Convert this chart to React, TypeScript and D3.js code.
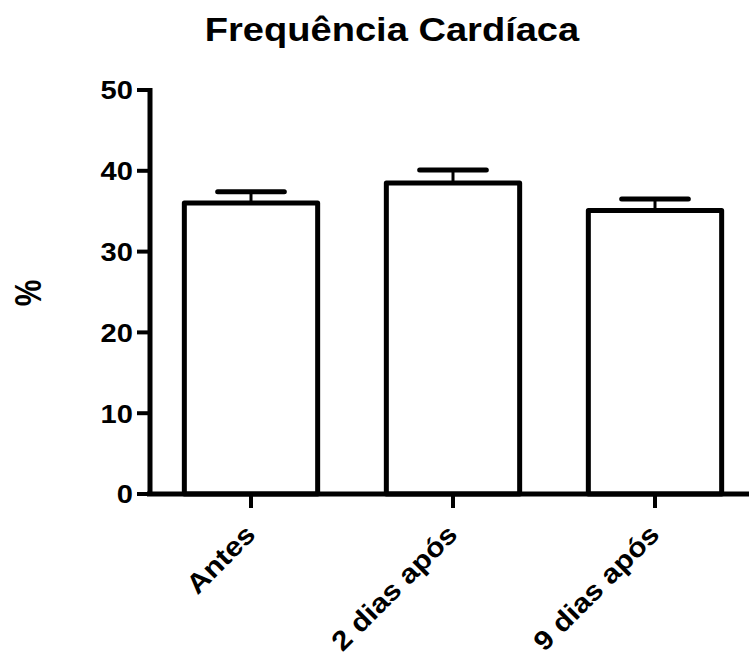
import React from "react";
import { scaleBand, scaleLinear } from "d3";

const categories = ["Antes", "2 dias após", "9 dias após"];
const means = [36.0, 38.5, 35.1];
const errors = [1.4, 1.6, 1.4];
const yTicks = [0, 10, 20, 30, 40, 50];

const W = 749;
const H = 657;
const font = "'Liberation Sans', Arial, sans-serif";
// the original lettering is a bit wider than Arial bold
const stretch = 1.12;

export default function App() {
  const x = scaleBand<string>().domain(categories).range([150, 756]).paddingInner(0.34).paddingOuter(0.17);
  const y = scaleLinear().domain([0, 50]).range([494, 90]);
  const bw = x.bandwidth();

  return (
    <svg width={W} height={H} style={{ position: "absolute", left: 0, top: 0 }}>
      <rect width={W} height={H} fill="#fff" />
      <text
        transform={`translate(392,41) scale(${stretch},1)`}
        textAnchor="middle"
        fontFamily={font}
        fontWeight="bold"
        fontSize={34}
      >
        Frequência Cardíaca
      </text>
      <text
        transform={`translate(41,293) rotate(-90) scale(1,1.2)`}
        textAnchor="middle"
        fontFamily={font}
        fontWeight="bold"
        fontSize={30}
      >
        %
      </text>

      {categories.map((c, i) => {
        const cx = x(c)! + bw / 2;
        const top = y(means[i]);
        const et = y(means[i] + errors[i]);
        return (
          <g key={c} stroke="#000" strokeWidth={5} fill="none">
            <line x1={cx} x2={cx} y1={top} y2={et} strokeWidth={3} />
            <line x1={cx - bw / 4} x2={cx + bw / 4} y1={et} y2={et} strokeLinecap="round" />
            <rect x={x(c)} y={top} width={bw} height={y(0) - top} fill="#fff" strokeLinejoin="round" />
          </g>
        );
      })}

      {/* y axis */}
      <line x1={150} x2={150} y1={88} y2={496} stroke="#000" strokeWidth={5} />
      {yTicks.map((t) => (
        <g key={t}>
          <line x1={137} x2={150} y1={y(t)} y2={y(t)} stroke="#000" strokeWidth={4} />
          <text
            transform={`translate(133,${y(t)}) scale(${stretch},1)`}
            dy="0.36em"
            textAnchor="end"
            fontFamily={font}
            fontWeight="bold"
            fontSize={26}
          >
            {t}
          </text>
        </g>
      ))}

      {/* x axis */}
      <line x1={147} x2={W} y1={494} y2={494} stroke="#000" strokeWidth={5} />
      {categories.map((c) => {
        const cx = x(c)! + bw / 2;
        return (
          <g key={c}>
            <line x1={cx} x2={cx} y1={494} y2={508} stroke="#000" strokeWidth={4} />
            <text
              transform={`translate(${cx + 6},${536}) rotate(-45) scale(${stretch},1)`}
              textAnchor="end"
              fontFamily={font}
              fontWeight="bold"
              fontSize={27}
            >
              {c}
            </text>
          </g>
        );
      })}
    </svg>
  );
}
